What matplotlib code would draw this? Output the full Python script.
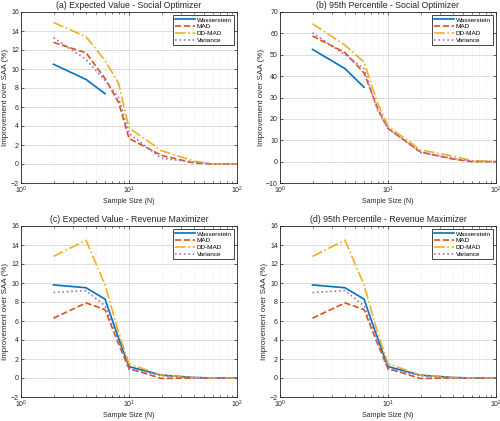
import numpy as np
import matplotlib
matplotlib.use('Agg')
import matplotlib.pyplot as plt
from matplotlib.ticker import LogLocator, NullFormatter, FixedLocator

plt.rcParams['font.family'] = ['Liberation Sans', 'DejaVu Sans']

nan = np.nan
sample_size = [2, 4, 6, 8, 10, 20, 40, 60, 100]
series_names = ['Wasserstein', 'MAD', 'DD-MAD', 'Variance']

# (a) Expected Value - Social Optimizer
ev_social_wass = [10.5, 8.9, 7.4, nan, nan, nan, nan, nan, nan]
ev_social_mad = [12.8, 11.7, 9.0, 6.5, 2.7, 0.9, 0.1, 0.0, 0.0]
ev_social_ddmad = [14.9, 13.4, 10.9, 8.5, 3.8, 1.4, 0.3, 0.0, 0.0]
ev_social_var = [13.3, 11.0, 8.8, 7.0, 3.2, 0.6, 0.2, 0.0, 0.0]

# (b) 95th Percentile - Social Optimizer
p95_social_wass = [52.5, 43.5, 34.8, nan, nan, nan, nan, nan, nan]
p95_social_mad = [58.8, 51.0, 41.5, 25.0, 15.5, 4.5, 1.2, 0.0, 0.0]
p95_social_ddmad = [64.5, 54.5, 46.5, 27.5, 16.5, 5.5, 2.5, 0.5, 0.0]
p95_social_var = [60.3, 50.0, 43.5, 24.0, 15.5, 4.3, 1.5, 0.2, 0.0]

# (c) Expected Value - Revenue Maximizer
ev_rev_wass = [9.8, 9.5, 8.3, 4.2, 1.2, 0.3, 0.05, 0.0, 0.0]
ev_rev_mad = [6.3, 7.9, 7.2, 3.6, 1.0, -0.05, 0.0, 0.0, 0.0]
ev_rev_ddmad = [12.8, 14.5, 9.8, 4.8, 1.5, 0.3, 0.05, 0.0, 0.0]
ev_rev_var = [9.0, 9.2, 7.6, 3.8, 0.9, 0.25, 0.0, 0.0, 0.0]

# (d) 95th Percentile - Revenue Maximizer
p95_rev_wass = [9.8, 9.5, 8.3, 4.2, 1.2, 0.3, 0.05, 0.0, 0.0]
p95_rev_mad = [6.3, 7.9, 7.2, 3.6, 1.0, -0.05, 0.0, 0.0, 0.0]
p95_rev_ddmad = [12.8, 14.5, 9.8, 4.8, 1.5, 0.3, 0.05, 0.0, 0.0]
p95_rev_var = [9.0, 9.2, 7.6, 3.8, 0.9, 0.25, 0.0, 0.0, 0.0]

panels = [
    ('(a) Expected Value - Social Optimizer',
     [ev_social_wass, ev_social_mad, ev_social_ddmad, ev_social_var], (-2, 16), 2),
    ('(b) 95th Percentile - Social Optimizer',
     [p95_social_wass, p95_social_mad, p95_social_ddmad, p95_social_var], (-10, 70), 10),
    ('(c) Expected Value - Revenue Maximizer',
     [ev_rev_wass, ev_rev_mad, ev_rev_ddmad, ev_rev_var], (-2, 16), 2),
    ('(d) 95th Percentile - Revenue Maximizer',
     [p95_rev_wass, p95_rev_mad, p95_rev_ddmad, p95_rev_var], (-2, 16), 2),
]

colors = ['#0072BD', '#D95319', '#EDB120', '#A86CC1']
styles = ['-', '--', '-.', ':']

fig = plt.figure(figsize=(5.0, 4.21), dpi=100)
# axes rectangles in figure fractions (left, bottom, width, height)
boxes = [
    (21 / 500, 1 - 183 / 421, 216 / 500, 171 / 421),
    (280 / 500, 1 - 183 / 421, 216 / 500, 171 / 421),
    (21 / 500, 1 - 397 / 421, 216 / 500, 171 / 421),
    (280 / 500, 1 - 397 / 421, 216 / 500, 171 / 421),
]

for box, (title, data, ylim, ystep) in zip(boxes, panels):
    ax = fig.add_axes(box)
    for vals, name, c, ls in zip(data, series_names, colors, styles):
        ax.plot(sample_size, vals, ls, color=c, lw=1.2, label=name)
    ax.set_xscale('log')
    ax.set_xlim(1, 100)
    ax.set_ylim(*ylim)
    ax.yaxis.set_major_locator(FixedLocator(np.arange(ylim[0], ylim[1] + ystep / 2, ystep)))
    ax.xaxis.set_major_locator(LogLocator(base=10, numticks=5))
    ax.xaxis.set_minor_locator(LogLocator(base=10, subs=np.arange(2, 10), numticks=10))
    ax.xaxis.set_minor_formatter(NullFormatter())
    ax.grid(True, which='major', color='#d8d8d8', lw=0.6)
    ax.grid(True, which='minor', axis='x', color='#e4e4e4', lw=0.5, ls=':')
    ax.tick_params(labelsize=5, direction='in', length=2, width=0.5, pad=1.5,
                   top=True, right=True, colors='#262626')
    ax.tick_params(which='minor', direction='in', length=1.2, width=0.4, top=True)
    for s in ax.spines.values():
        s.set_linewidth(0.6)
        s.set_color('#262626')
    ax.set_title(title, fontsize=6.3, pad=3, color='#262626')
    ax.set_xlabel('Sample Size (N)', fontsize=5, labelpad=1, color='#262626')
    ax.set_ylabel('Improvement over SAA (%)', fontsize=5.8, labelpad=1, color='#262626')
    leg = ax.legend(loc='upper right', fontsize=4.6, frameon=True, fancybox=False,
                    borderpad=0.3, labelspacing=0.2, handlelength=3.2,
                    handletextpad=0.3, borderaxespad=0.5)
    leg.get_frame().set_edgecolor('#262626')
    leg.get_frame().set_linewidth(0.6)
    leg.get_frame().set_alpha(1)

fig.savefig('out.png', dpi=100)
